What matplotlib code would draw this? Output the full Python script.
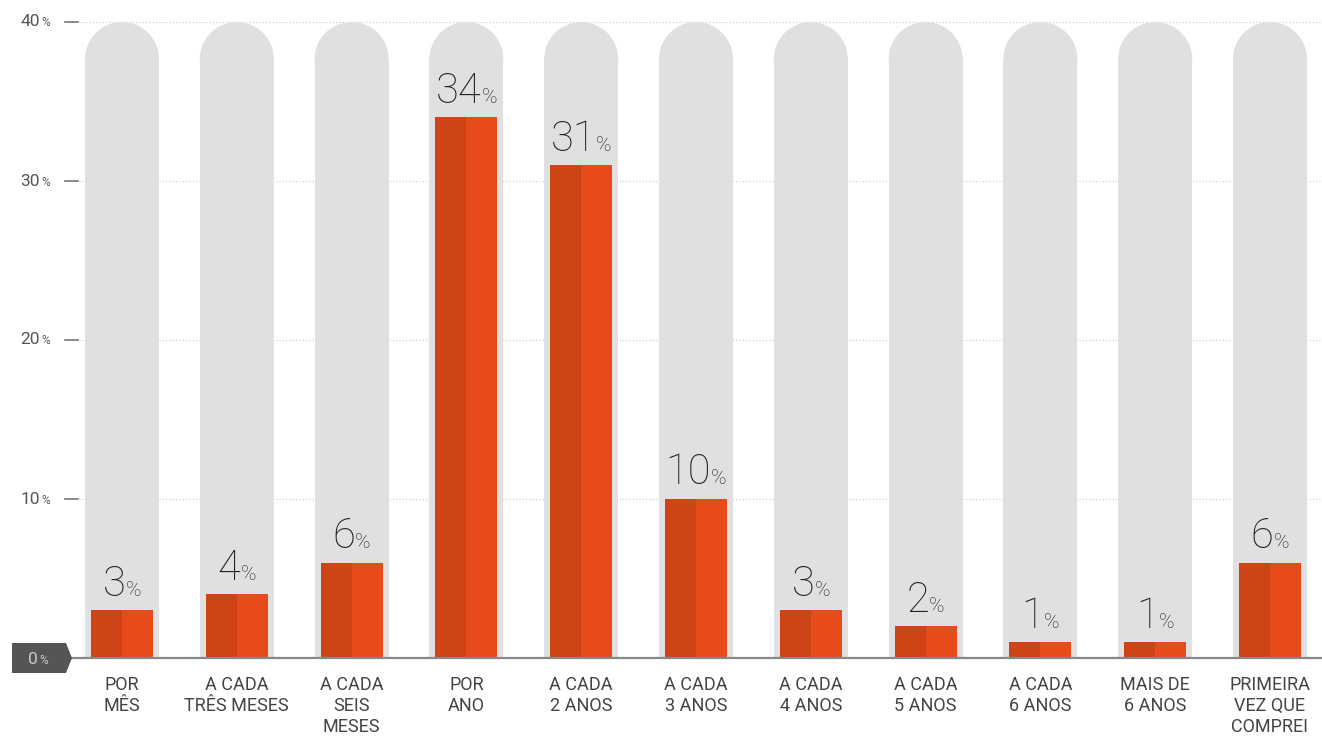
import numpy as np
import matplotlib.pyplot as plt
from matplotlib.patches import Rectangle, Ellipse, Polygon
from matplotlib.offsetbox import TextArea, HPacker, AnnotationBbox

categories = ["POR\nMÊS", "A CADA\nTRÊS MESES", "A CADA\nSEIS\nMESES", "POR\nANO",
              "A CADA\n2 ANOS", "A CADA\n3 ANOS", "A CADA\n4 ANOS", "A CADA\n5 ANOS",
              "A CADA\n6 ANOS", "MAIS DE\n6 ANOS", "PRIMEIRA\nVEZ QUE\nCOMPREI"]
values = [3, 4, 6, 34, 31, 10, 3, 2, 1, 1, 6]
yticks = [10, 20, 30, 40]

W, H = 1322, 738
plt.rcParams['font.family'] = ['Roboto', 'DejaVu Sans']

fig = plt.figure(figsize=(W / 100, H / 100), dpi=100)
# axes: left edge 65px, y=0 at 658px, y=40 at 22px
ax = fig.add_axes([65 / W, (H - 658) / H, 1 - 65 / W, (658 - 22) / H])
step = 114.8  # px per category
ax.set_xlim(-57 / step, (W - 122) / step)
ax.set_ylim(0, 40)
ax.axis('off')

px_y = (658 - 22) / 40.0
pill_w = 74 / step
pill_r = 37 / px_y
bar_w = 62 / step
dark = '#cf4416'
light = '#e84b1b'

# gridlines + small tick dashes
x0, x1 = ax.get_xlim()
for t in yticks:
    ax.plot([x0 + 14 / step, x1], [t, t], color='#c8c8c8', lw=0.8,
            ls=(0, (1, 2)), zorder=0)
    ax.plot([x0, x0 + 13 / step], [t, t], color='#777777', lw=1.2, zorder=1,
            clip_on=False)

for i, v in enumerate(values):
    # grey pill
    ax.add_patch(Rectangle((i - pill_w / 2, 0), pill_w, 40 - pill_r,
                           facecolor='#e0e0e0', edgecolor='none', zorder=1))
    ax.add_patch(Ellipse((i, 40 - pill_r), pill_w, 2 * pill_r,
                         facecolor='#e0e0e0', edgecolor='none', zorder=1))
    # two-tone bar
    ax.bar(i - bar_w / 4, v, width=bar_w / 2, color=dark, zorder=2)
    ax.bar(i + bar_w / 4, v, width=bar_w / 2, color=light, zorder=2)
    # value label
    num = TextArea(str(v), textprops=dict(fontsize=30, color='#222222',
                                          fontweight='light'))
    pct = TextArea('%', textprops=dict(fontsize=15, color='#222222',
                                       fontweight='light'))
    box = HPacker(children=[num, pct], align='baseline', pad=0, sep=0)
    ab = AnnotationBbox(box, (i, v), xybox=(0, 4), xycoords='data',
                        boxcoords='offset points', box_alignment=(0.5, 0),
                        frameon=False, pad=0)
    ax.add_artist(ab)
    # category label
    ax.annotate(categories[i], (i, 0), xytext=(0, -13), textcoords='offset points',
                ha='center', va='top', fontsize=13, color='#444444',
                linespacing=1.22, annotation_clip=False)

# y tick labels
for t in yticks:
    num = TextArea(str(t), textprops=dict(fontsize=12.5, color='#555555'))
    pct = TextArea('%', textprops=dict(fontsize=8.5, color='#555555'))
    box = HPacker(children=[num, pct], align='baseline', pad=0, sep=1)
    ab = AnnotationBbox(box, (x0, t), xybox=(-11, 0), xycoords='data',
                        boxcoords='offset points', box_alignment=(1, 0.5),
                        frameon=False, pad=0, annotation_clip=False)
    ax.add_artist(ab)

# baseline
ax.plot([x0, x1], [0, 0], color='#888888', lw=1.6, zorder=3, clip_on=False)


def fx(x, y):
    return (x / W, (H - y) / H)


# 0% marker box
fig.add_artist(Polygon([fx(12, 643), fx(66, 643), fx(72, 658), fx(66, 673), fx(12, 673)],
                       closed=True, facecolor='#555555', edgecolor='none',
                       transform=fig.transFigure))
num = TextArea('0', textprops=dict(fontsize=12.5, color='#cccccc'))
pct = TextArea('%', textprops=dict(fontsize=8.5, color='#cccccc'))
box = HPacker(children=[num, pct], align='baseline', pad=0, sep=1)
ab = AnnotationBbox(box, fx(38, 659), xycoords='figure fraction',
                    box_alignment=(0.5, 0.5), frameon=False, pad=0)
fig.add_artist(ab)

fig.savefig('out.png', dpi=100)
